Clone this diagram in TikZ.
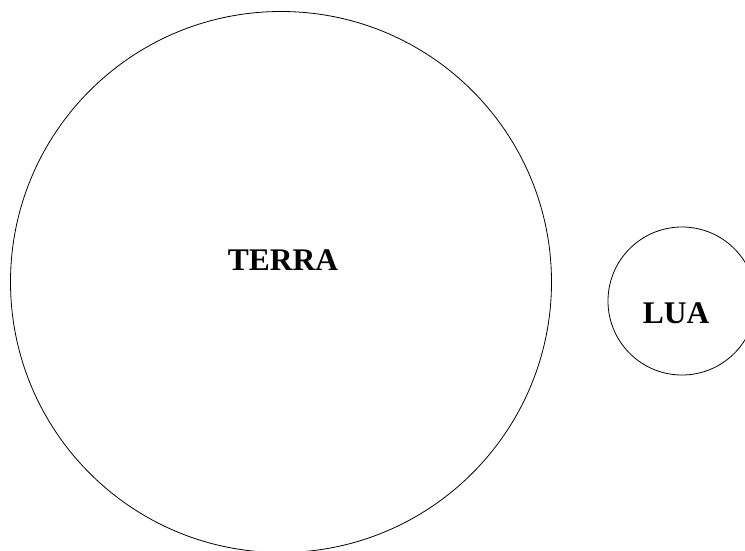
\documentclass[tikz,border=0pt]{standalone}
\usepackage{fontspec}
\setmainfont{Liberation Serif}
\usepackage{tikz}
\usetikzlibrary{positioning}

\begin{document}
\begin{tikzpicture}[x=1pt,y=-1pt,every node/.style={font=\bfseries\fontsize{31.5}{32}\selectfont}]
      \tikzstyle{planet}=[circle,draw,line width=0.8pt,inner sep=0pt];
      \tikzstyle{rotulo}=[inner sep=0pt,anchor=center];
      \useasboundingbox (0,0) rectangle (745,551);
      \node[planet,minimum size=541pt] (terra) at (281,282) {};
      \node[planet,minimum size=148pt] (lua)   at (682,301) {};
      \node[rotulo] (terratxt) at (283,260) {TERRA};
      \node[rotulo] (luatxt)   at (676,313) {LUA};
    \end{tikzpicture}
\end{document}
